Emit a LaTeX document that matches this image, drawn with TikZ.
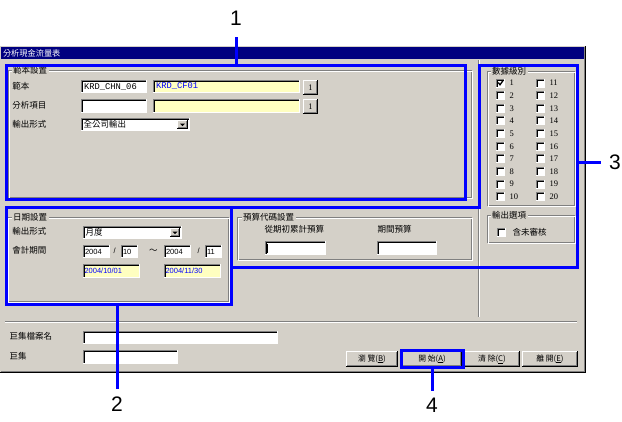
\documentclass[tikz,border=0pt]{standalone}
\usepackage{fontspec}
\setmainfont{Liberation Sans}
\newfontfamily\cjk{Noto Sans CJK TC}
\newfontfamily\monof{Liberation Mono}
\newfontfamily\serf{Liberation Serif}
\definecolor{winbg}{HTML}{D4D0C8}
\definecolor{dkgrey}{HTML}{808080}
\definecolor{navy}{HTML}{000080}
\definecolor{yfield}{HTML}{FFFFC0}
\definecolor{hlblue}{HTML}{0000FF}
\newcommand{\sunkbox}[5]{%
  \fill[#5] (#1,#2) rectangle (#3,#4);
  \draw[dkgrey] (#1+0.5,#4) -- (#1+0.5,#2+0.5) -- (#3,#2+0.5);
  \draw[black] (#1+1.5,#4-1) -- (#1+1.5,#2+1.5) -- (#3-1,#2+1.5);
  \draw[white] (#1,#4-0.5) -- (#3-0.5,#4-0.5) -- (#3-0.5,#2);
}
\newcommand{\raisedbtn}[4]{%
  \fill[winbg] (#1,#2) rectangle (#3,#4);
  \draw[white] (#1+0.5,#4-1) -- (#1+0.5,#2+0.5) -- (#3-1,#2+0.5);
  \draw[black] (#1,#4-0.5) -- (#3-0.5,#4-0.5) -- (#3-0.5,#2);
  \draw[dkgrey] (#1+1,#4-1.5) -- (#3-1.5,#4-1.5) -- (#3-1.5,#2+1);
}
\newcommand{\etchbox}[4]{%
  \draw[dkgrey] (#1+0.5,#2+0.5) rectangle (#3-1.5,#4-1.5);
  \draw[white] (#1+1.5,#2+1.5) rectangle (#3-0.5,#4-0.5);
}
\tikzset{
  lbl/.style={font=\cjk\fontsize{8.5}{9}\selectfont, inner sep=0pt, anchor=west},
  glbl/.style={lbl, fill=winbg, inner xsep=1.5pt, inner ysep=0.5pt},
  btnlbl/.style={font=\cjk\fontsize{7.8}{8}\selectfont, inner sep=0pt},
  numtxt/.style={font=\fontsize{7.5}{8}\selectfont, inner sep=0pt, anchor=west},
  montxt/.style={font=\monof\fontsize{8.8}{9}\selectfont, inner sep=0pt, anchor=west},
  chktxt/.style={font=\serf\fontsize{8.5}{9}\selectfont, inner sep=0pt, anchor=west},
  bluebox/.style={draw=hlblue, line width=3pt, inner sep=0pt, outer sep=0pt},
  callline/.style={draw=hlblue, line width=3pt},
  callnum/.style={font=\fontsize{21}{22}\selectfont, inner sep=0pt, text=black},
}
\begin{document}
\begin{tikzpicture}[x=1pt, y=-1pt, line width=1pt]
\useasboundingbox (0,0) rectangle (622,421);
\fill[white] (0,0) rectangle (622,421);
% window
\fill[winbg] (0,46) rectangle (586,373);
\draw[black] (585.5,46) -- (585.5,372.5) -- (0,372.5);
\draw[dkgrey] (584.5,47) -- (584.5,371.5) -- (1,371.5);
\fill[navy] (1,47) rectangle (584,59);
\node[lbl, text=white, font=\cjk\fontsize{8.2}{9}\selectfont] (title) at (2.5,53) {分析現金流量表};
% separators
\draw[dkgrey] (478.5,60) -- (478.5,317);
\draw[white] (479.5,60) -- (479.5,317);
\draw[dkgrey] (5,321.5) -- (577,321.5);
\draw[white] (5,322.5) -- (577,322.5);
% group 範本設置
\etchbox{8}{70}{473}{199}
\node[glbl] (gA) at (11,70) {範本設置};
\node[lbl] (lA1) at (12,86) {範本};
\node[lbl] (lA2) at (12,105) {分析項目};
\node[lbl] (lA3) at (12,124) {輸出形式};
\sunkbox{81}{80}{147}{93}{white}
\node[montxt] (vA1) at (83.5,87) {KRD\_CHN\_06};
\sunkbox{153}{80}{300}{93}{yfield}
\node[montxt, text=hlblue] (vA2) at (155.5,86.5) {KRD\_CF01};
\raisedbtn{303}{80}{318}{95}
\node[chktxt, anchor=center] (bA1) at (310.5,87.5) {1};
\sunkbox{81}{99}{147}{113}{white}
\sunkbox{153}{99}{300}{113}{yfield}
\raisedbtn{303}{99}{318}{114}
\node[chktxt, anchor=center] (bA2) at (310.5,106.5) {1};
\sunkbox{81}{118}{190}{131}{white}
\node[lbl] (vA3) at (83,124.5) {全公司輸出};
\raisedbtn{177}{120}{188}{129}
\fill[black] (180,123.5) -- (185,123.5) -- (182.5,126) -- cycle;
% group 日期設置
\etchbox{7}{217}{230}{303}
\node[glbl] (gB) at (11,217) {日期設置};
\node[lbl] (lB1) at (12,231) {輸出形式};
\sunkbox{83}{226}{182}{239}{white}
\node[lbl] (vB1) at (85,232.5) {月度};
\raisedbtn{170}{228}{180}{237}
\fill[black] (172.5,231.5) -- (177.5,231.5) -- (175,234) -- cycle;
\node[lbl] (lB2) at (12,250) {會計期間};
\sunkbox{83}{245}{110}{258}{white}
\node[numtxt] (vB2) at (84.5,251.5) {2004};
\node[numtxt] (sB1) at (113,251) {/};
\sunkbox{121}{245}{138}{258}{white}
\node[numtxt] (vB3) at (122.5,251.5) {10};
\node[lbl] (tB) at (148.5,251) {～};
\sunkbox{164}{245}{191}{258}{white}
\node[numtxt] (vB4) at (165.5,251.5) {2004};
\node[numtxt] (sB2) at (197,251) {/};
\sunkbox{205}{245}{222}{258}{white}
\node[numtxt] (vB5) at (206.5,251.5) {11};
\sunkbox{83}{264}{140}{278}{yfield}
\node[numtxt, text=hlblue] (vB6) at (84,271) {2004/10/01};
\sunkbox{164}{264}{221}{278}{yfield}
\node[numtxt, text=hlblue] (vB7) at (165,271) {2004/11/30};
% group 預算代碼設置
\etchbox{237}{217}{473}{261}
\node[glbl] (gC) at (241,217) {預算代碼設置};
\node[lbl] (lC1) at (264,229.5) {從期初累計預算};
\node[lbl] (lC2) at (377,229.5) {期間預算};
\sunkbox{265}{241}{326}{255}{white}
\draw[black] (267.5,243.5) -- (267.5,253);
\sunkbox{377}{241}{437}{255}{white}
% group 數據級別
\etchbox{487}{71}{576}{207}
\node[glbl] (gD) at (490,71) {數據級別};
\foreach \i [evaluate=\i as \yy using 83+12.65*\i,
             evaluate=\i as \na using int(\i+1),
             evaluate=\i as \nb using int(\i+11)] in {0,...,9}{
  \sunkbox{496}{\yy-4.5}{505}{\yy+4.5}{white}
  \node[chktxt] (ca\na) at (509,\yy) {\na};
  \sunkbox{536}{\yy-4.5}{545}{\yy+4.5}{white}
  \node[chktxt] (cb\nb) at (549,\yy) {\nb};
}
\draw[black, line width=1.3pt] (498.3,82.5) -- (500,84.8) -- (503.2,80.3);
% group 輸出選項
\etchbox{487}{215}{576}{244}
\node[glbl] (gE) at (490,215) {輸出選項};
\sunkbox{497}{228}{506}{237}{white}
\node[lbl] (lE) at (512,232) {含未審核};
% bottom
\node[lbl] (lF1) at (9,336.5) {巨集檔案名};
\sunkbox{83}{331}{278}{344}{white}
\node[lbl] (lF2) at (9,356) {巨集};
\sunkbox{83}{350}{178}{364}{white}
\raisedbtn{346}{351}{398}{367}
\node[btnlbl] (k1) at (372,359) {瀏 覽(\underline{B})};
\raisedbtn{402}{351}{462}{367}
\node[btnlbl] (k2) at (432,359) {開 始(\underline{A})};
\raisedbtn{464}{351}{520}{367}
\node[btnlbl] (k3) at (492,359) {清 除(\underline{C})};
\raisedbtn{522}{351}{578}{367}
\node[btnlbl] (k4) at (550,359) {離 開(\underline{E})};
% blue highlights
\node[bluebox, minimum width=459pt, minimum height=134pt] (b1) at (235.5,132) {};
\node[bluebox, minimum width=225pt, minimum height=97pt] (b2) at (118.5,255.5) {};
\draw[hlblue, line width=3pt] (231,207) -- (479,207) -- (479,65) -- (577,65) -- (577,267) -- (231,267) -- cycle;
\coordinate (b3) at (577,162);
\node[bluebox, minimum width=62pt, minimum height=17pt] (b4) at (432,358.5) {};
% callouts
\node[callnum] (n1) at (236,18) {1};
\node[callnum] (n2) at (117,404) {2};
\node[callnum] (n3) at (615,162) {3};
\node[callnum] (n4) at (432,405) {4};
\draw[callline, shorten <=11.5pt] (n1.south) -- (n1 |- b1.north);
\draw[callline, shorten >=7.5pt] (n2 |- b2.south) -- (n2.north);
\draw[callline, shorten >=8pt] (b3) -- (n3.west);
\draw[callline, shorten >=6.5pt] (b4.south) -- (n4.north);
\end{tikzpicture}
\end{document}
